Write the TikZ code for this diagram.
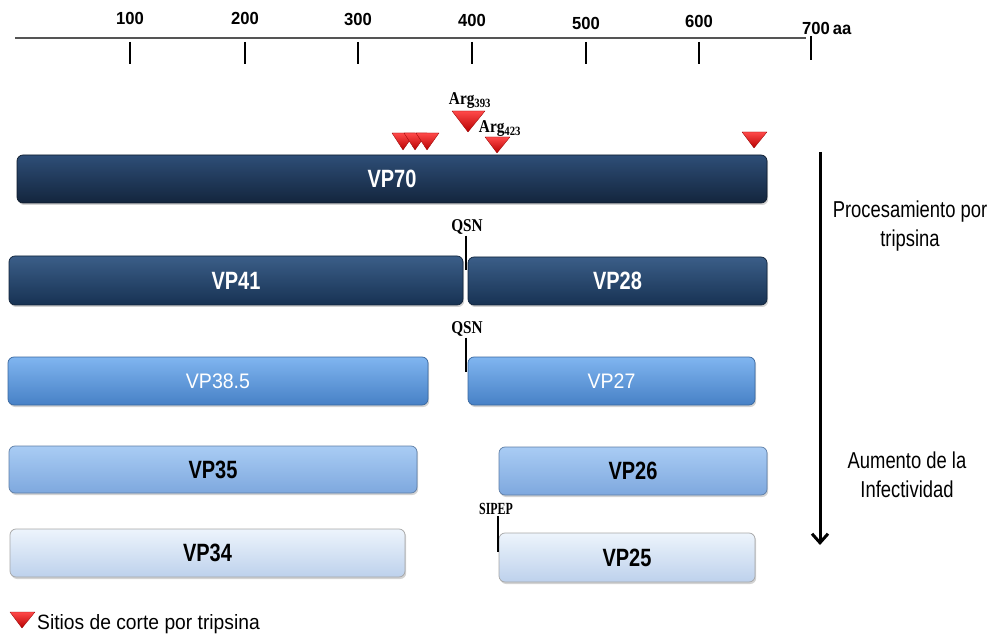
\documentclass[tikz,border=0pt]{standalone}
\usepackage{fontspec}
\usepackage{graphicx}
\setmainfont{Liberation Sans}
\newfontfamily\cnd[FakeStretch=0.8]{Liberation Sans}
\newfontfamily\cndr[FakeStretch=0.93]{Liberation Sans}
\newfontfamily\axf[FakeStretch=0.95]{Liberation Sans}
\newfontfamily\cser[FakeStretch=0.85]{Liberation Serif}
\newfontfamily\cserx[FakeStretch=0.7]{Liberation Serif}
\usetikzlibrary{shadows,arrows.meta}

\definecolor{navyAtop}{HTML}{2E4E77}
\definecolor{navyAmid}{HTML}{1A3050}
\definecolor{navyAbot}{HTML}{13253D}
\definecolor{navyBtop}{HTML}{3B5E88}
\definecolor{navyBmid}{HTML}{1F3F66}
\definecolor{navyBbot}{HTML}{173253}
\definecolor{bluetop}{HTML}{80B5F0}
\definecolor{bluemid}{HTML}{5A98DE}
\definecolor{bluebot}{HTML}{4781C6}
\definecolor{ltbtop}{HTML}{A9CCF4}
\definecolor{ltbmid}{HTML}{8DB6E8}
\definecolor{ltbbot}{HTML}{7EA8DE}
\definecolor{paletop}{HTML}{EDF4FC}
\definecolor{palemid}{HTML}{D4E4F6}
\definecolor{palebot}{HTML}{BDD1EC}
\definecolor{redtop}{HTML}{FF4A4A}
\definecolor{redbot}{HTML}{B80000}
\definecolor{axisgray}{HTML}{555555}

\tikzset{
  bar/.style={rectangle, rounded corners=6pt, inner sep=0pt, line width=0.7pt,
    drop shadow={shadow xshift=1.2pt, shadow yshift=-2pt, opacity=0.35}},
  navyA/.style={bar, draw=navyAbot!70!black, top color=navyAtop, middle color=navyAmid, bottom color=navyAbot},
  navyB/.style={bar, draw=navyBbot!70!black, top color=navyBtop, middle color=navyBmid, bottom color=navyBbot},
  midblue/.style={bar, draw=bluebot!80!black, top color=bluetop, middle color=bluemid, bottom color=bluebot},
  ltblue/.style={bar, draw=ltbbot!75!black, top color=ltbtop, middle color=ltbmid, bottom color=ltbbot},
  paleblue/.style={bar, draw=gray!70, top color=paletop, middle color=palemid, bottom color=palebot},
  boldwhite/.style={text=white, font=\cnd\bfseries\fontsize{25}{28}\selectfont},
  regwhite/.style={text=white, font=\cndr\fontsize{21}{24}\selectfont},
  boldblack/.style={text=black, font=\cnd\bfseries\fontsize{25}{28}\selectfont},
  axlab/.style={font=\axf\bfseries\fontsize{17.5}{20}\selectfont, inner sep=0pt},
  sitelab/.style={font=\cser\bfseries\fontsize{18}{20}\selectfont, inner sep=1pt},
  sidetext/.style={font=\cnd\fontsize{23}{29}\selectfont, align=center, inner sep=0pt},
  leader/.style={line width=1.2pt, black},
  tick/.style={line width=1.2pt, black},
  cut/.style={top color=redtop, bottom color=redbot, draw=redbot!80!black, line width=0.3pt, line join=round}
}
\newcommand{\cuttri}[5]{\shade[cut] (#1,#3) -- (#2,#3) -- (#4,#5) -- cycle;}

\begin{document}
\begin{tikzpicture}[x=1pt,y=-1pt]
\useasboundingbox (0,0) rectangle (996,636);

% --- scale axis
\coordinate (ax0) at (15,38);
\coordinate (ax1) at (806,38);
\draw[line width=2pt, axisgray] (ax0) -- (ax1);
\foreach \xx/\lab/\ly in {130/100/18, 245/200/18, 358/300/19, 472/400/20, 586/500/23, 699/600/21}{
  \coordinate (t\lab a) at (\xx,42);
  \coordinate (t\lab b) at (\xx,64);
  \draw[tick] (t\lab a) -- (t\lab b);
  \node[axlab] (l\lab) at (\xx,\ly) {\lab};
}
\coordinate (t700a) at (811,36);
\coordinate (t700b) at (811,60);
\draw[tick] (t700a) -- (t700b);
\node[axlab, anchor=west] (l700) at (802,28) {700\,aa};

% --- cleavage sites
\cuttri{392}{415}{133}{403}{150}
\cuttri{404}{427}{133}{415}{150}
\cuttri{416}{439}{133}{427}{150}
\cuttri{452}{485}{111}{468}{132}
\cuttri{485}{510}{137}{497}{153}
\cuttri{742}{767}{132}{754}{148}
\node[sitelab] (arg393) at (470,101) {Arg\textsubscript{393}};
\node[sitelab] (arg423) at (500,129) {Arg\textsubscript{423}};

% --- protein bars
\node[navyA, minimum width=750pt, minimum height=48pt, boldwhite] (vp70) at (392,179) {\raisebox{-3pt}{VP70}};
\node[navyB, minimum width=454pt, minimum height=49pt, boldwhite] (vp41) at (236,280.5) {\raisebox{-3pt}{VP41}};
\node[navyB, minimum width=299pt, minimum height=48pt, boldwhite] (vp28) at (617.5,281) {\raisebox{-3pt}{VP28}};
\node[midblue, minimum width=420pt, minimum height=48pt, regwhite] (vp385) at (218,381) {\raisebox{-3pt}{VP38.5}};
\node[midblue, minimum width=287pt, minimum height=48pt, regwhite] (vp27) at (611.5,381) {\raisebox{-3pt}{VP27}};
\node[ltblue, minimum width=408pt, minimum height=47pt, boldblack] (vp35) at (213,469.5) {\raisebox{-3pt}{VP35}};
\node[ltblue, minimum width=268pt, minimum height=48pt, boldblack] (vp26) at (633,471) {\raisebox{-3pt}{VP26}};
\node[paleblue, minimum width=395pt, minimum height=48pt, boldblack] (vp34) at (207.5,553) {\raisebox{-3pt}{VP34}};
\node[paleblue, minimum width=256pt, minimum height=49pt, boldblack] (vp25) at (627,557.5) {\raisebox{-3pt}{VP25}};

% --- cleavage motif labels with leader lines
\node[sitelab] (qsnA) at (467,227) {QSN};
\coordinate (qsnAend) at (466,270);
\draw[leader] (qsnAend |- qsnA.south) -- (qsnAend);
\node[sitelab] (qsnB) at (467,329) {QSN};
\coordinate (qsnBend) at (466,372);
\draw[leader] (qsnBend |- qsnB.south) -- (qsnBend);
\node[sitelab, font=\cserx\bfseries\fontsize{17}{19}\selectfont] (sipep) at (496,509) {SIPEP};
\coordinate (sipepend) at (498,552);
\draw[leader] (sipepend |- sipep.south) -- (sipepend);

% --- process arrow
\coordinate (arrTop) at (820,152);
\coordinate (arrEnd) at (820,545);
\draw[line width=3pt, -{Straight Barb[length=9pt, width=16pt, line width=3pt]}] (arrTop) -- (arrEnd);
\node[sidetext] (proc) at (910,226) {Procesamiento por\\tripsina};
\node[sidetext] (aum) at (907,475) {Aumento de la\\Infectividad};

% --- legend
\cuttri{10}{35}{612}{22}{628}
\node[font=\cndr\fontsize{20.7}{23}\selectfont, anchor=west, inner sep=0pt] (legend) at (37,624) {Sitios de corte por tripsina};
\end{tikzpicture}
\end{document}
